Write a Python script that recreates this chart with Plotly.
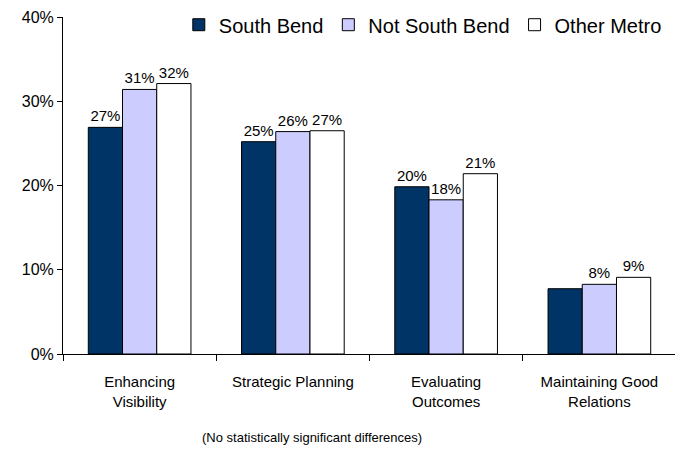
import plotly.graph_objects as go

categories = ["Enhancing<br>Visibility", "Strategic Planning", "Evaluating<br>Outcomes",
              "Maintaining Good<br>Relations"]
south_bend = [26.9, 25.2, 19.85, 7.75]
not_south_bend = [31.4, 26.4, 18.3, 8.27]
other_metro = [32.1, 26.5, 21.4, 9.1]
south_bend_labels = ["27%", "25%", "20%", ""]
not_south_bend_labels = ["31%", "26%", "18%", "8%"]
other_metro_labels = ["32%", "27%", "21%", "9%"]
y_ticks = [0, 10, 20, 30, 40]
y_tick_labels = ["0%", "10%", "20%", "30%", "40%"]

series = [
    ("South Bend", south_bend, south_bend_labels, "#003366"),
    ("Not South Bend", not_south_bend, not_south_bend_labels, "#CCCCFF"),
    ("Other Metro", other_metro, other_metro_labels, "#FFFFFF"),
]

fig = go.Figure()
for name, vals, labels, color in series:
    fig.add_trace(go.Bar(
        name=name, x=categories, y=vals,
        text=labels, textposition="outside", cliponaxis=False,
        textfont=dict(size=15, color="black"),
        marker=dict(color=color, line=dict(color="black", width=1)),
    ))

# page body has an 8px margin, so the figure is shrunk to fit the window
fig.update_layout(
    width=675, height=442,
    margin=dict(l=55, r=7, t=9, b=96, autoexpand=False),
    paper_bgcolor="white", plot_bgcolor="white",
    font=dict(family="Liberation Sans, Arial, sans-serif", size=15, color="black"),
    barmode="group", bargap=0.33, bargroupgap=0,
    legend=dict(orientation="h", x=0.985, xanchor="right", y=1.035,
                yanchor="top", font=dict(size=20), itemwidth=30,
                traceorder="normal", bgcolor="rgba(0,0,0,0)"),
)
fig.update_yaxes(range=[0, 40], tickvals=y_ticks, ticktext=y_tick_labels,
                 showgrid=False, showline=True, linecolor="black", linewidth=1,
                 ticks="outside", ticklen=5, tickcolor="black", zeroline=False,
                 tickfont=dict(size=16), automargin=False)
fig.update_xaxes(showline=True, linecolor="black", linewidth=1, ticks="outside",
                 tickson="boundaries", ticklen=6, tickcolor="black",
                 ticklabelstandoff=14, tickfont=dict(size=15), automargin=False)
fig.add_annotation(text="(No statistically significant differences)", xref="paper",
                   yref="paper", x=0.406, y=-0.249, showarrow=False,
                   font=dict(size=13), yanchor="middle")

fig.write_html("out.html")
